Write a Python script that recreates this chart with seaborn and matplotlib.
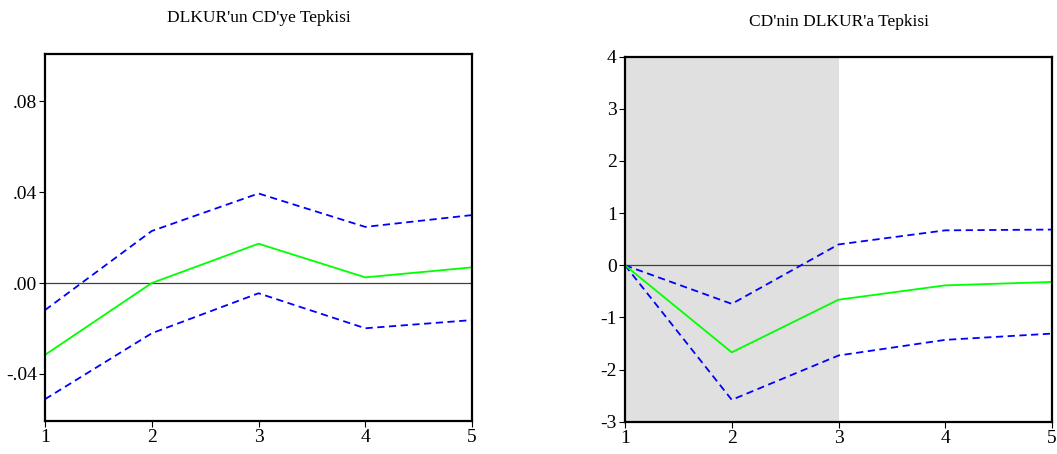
import matplotlib
matplotlib.use("Agg")
import matplotlib.pyplot as plt
import seaborn as sns
import pandas as pd

periods = [1, 2, 3, 4, 5]

# DLKUR'un CD'ye Tepkisi
left_resp = [-0.0316, 0.0000, 0.0173, 0.0025, 0.0069]
left_upper = [-0.0119, 0.0229, 0.0394, 0.0247, 0.0299]
left_lower = [-0.0511, -0.0221, -0.0045, -0.0199, -0.0163]
left_yticks = [-0.04, 0.00, 0.04, 0.08]
left_ylabels = ["-.04", ".00", ".04", ".08"]

# CD'nin DLKUR'a Tepkisi
right_resp = [0.0, -1.67, -0.66, -0.385, -0.32]
right_upper = [0.0, -0.74, 0.40, 0.67, 0.685]
right_lower = [0.0, -2.58, -1.73, -1.43, -1.31]
right_yticks = [-3, -2, -1, 0, 1, 2, 3, 4]
shade_span = (1, 3)

sns.set_style("ticks", {"text.color": "black", "xtick.color": "black",
                        "ytick.color": "black"})
plt.rcParams['font.family'] = ['Liberation Serif', 'DejaVu Serif']
plt.rcParams['axes.unicode_minus'] = False

fig = plt.figure(figsize=(10.57, 4.54), dpi=100)
ax1 = fig.add_axes([0.0426, 0.0727, 0.404, 0.808])
ax2 = fig.add_axes([0.5913, 0.0711, 0.404, 0.804])


def draw(ax, resp, upper, lower):
    df = pd.DataFrame({"h": periods, "resp": resp, "up": upper, "lo": lower})
    ax.axhline(0, color="#404040", lw=0.9, zorder=1)
    sns.lineplot(data=df, x="h", y="up", ax=ax, color="#0000ff", lw=1.3,
                 linestyle=(0, (4, 2.5)))
    sns.lineplot(data=df, x="h", y="lo", ax=ax, color="#0000ff", lw=1.3,
                 linestyle=(0, (4, 2.5)))
    sns.lineplot(data=df, x="h", y="resp", ax=ax, color="#00ff00", lw=1.3)
    ax.set_xlim(1, 5)
    ax.set_xticks(periods)
    ax.set_xlabel("")
    ax.set_ylabel("")
    for s in ax.spines.values():
        s.set_linewidth(1.6)
        s.set_color("black")
    ax.tick_params(axis="both", direction="out", length=4, width=0.8,
                   labelsize=14, pad=2, colors="black")


draw(ax1, left_resp, left_upper, left_lower)
ax1.set_ylim(-0.0607, 0.1007)
ax1.set_yticks(left_yticks)
ax1.set_yticklabels(left_ylabels)
ax1.set_title("DLKUR'un CD'ye Tepkisi", fontsize=12.5, pad=23, color="black")

draw(ax2, right_resp, right_upper, right_lower)
ax2.axvspan(*shade_span, color="#e0e0e0", zorder=0, lw=0)
ax2.set_ylim(-3, 4)
ax2.set_yticks(right_yticks)
ax2.set_title("CD'nin DLKUR'a Tepkisi", fontsize=12.5, pad=22, color="black")

fig.savefig("out.png", dpi=100)
